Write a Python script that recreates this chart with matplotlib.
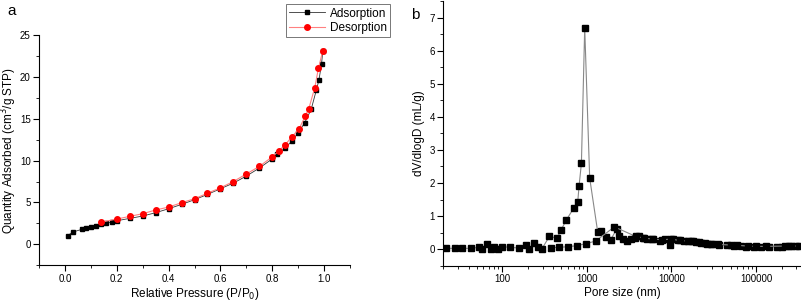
import matplotlib
matplotlib.use("Agg")
import matplotlib.pyplot as plt
from matplotlib.ticker import MultipleLocator, FuncFormatter, LogLocator, NullFormatter

plt.rcParams["font.family"] = ["Liberation Sans", "DejaVu Sans"]

# ─── panel a: isotherm ─────────────────────────
ads_p = [0.01, 0.03, 0.065, 0.08, 0.10, 0.12, 0.14, 0.16, 0.18, 0.20, 0.25, 0.30,
         0.35, 0.40, 0.45, 0.50, 0.55, 0.60, 0.65, 0.70, 0.75, 0.80, 0.82, 0.85,
         0.875, 0.90, 0.925, 0.95, 0.97, 0.98, 0.99, 0.995]
ads_q = [1.03, 1.47, 1.79, 1.91, 2.07, 2.23, 2.38, 2.54, 2.66, 2.82, 3.10, 3.38,
         3.78, 4.25, 4.77, 5.33, 5.96, 6.64, 7.31, 8.15, 9.10, 10.2, 10.8, 11.5,
         12.3, 13.3, 14.5, 16.1, 18.4, 19.6, 21.5, 23.1]

des_p = [0.995, 0.978, 0.964, 0.941, 0.927, 0.904, 0.875, 0.85, 0.824, 0.80, 0.75,
         0.70, 0.65, 0.60, 0.55, 0.50, 0.45, 0.40, 0.35, 0.30, 0.25, 0.20, 0.14]
des_q = [23.1, 21.0, 18.7, 16.2, 15.3, 13.8, 12.8, 11.9, 11.1, 10.45, 9.3,
         8.4, 7.5, 6.75, 6.1, 5.45, 4.97, 4.45, 4.1, 3.66, 3.34, 3.02, 2.65]

# ─── panel b: pore size distribution ───────────
psd1_d = [21.9, 27.4, 33.5, 42.3, 53.1, 58.1, 66, 72.8, 79.8, 88.9, 100, 125, 157,
          192, 210, 236, 264, 294, 361, 445, 497, 573, 700, 780, 809, 863, 944,
          1081, 1344, 1473, 1671, 1914, 2250, 2420, 2650, 2950, 3320, 3700, 4160,
          4630, 5210, 5820, 7300, 8350, 9570, 10300, 11800, 14100, 16900, 19400,
          22200, 26600, 30500, 36500, 45800, 54900, 65800, 75400, 94500, 113000,
          142000, 178000, 204000, 244000, 293000]
psd1_v = [0.02, 0.02, 0.02, 0.02, 0.05, 0.0, 0.14, 0.0, 0.07, 0.0, 0.07, 0.05, 0.03,
          0.12, 0.0, 0.18, 0.05, 0.0, 0.38, 0.33, 0.58, 0.88, 1.24, 1.41, 1.9, 2.6, 6.7,
          2.15, 0.52, 0.55, 0.37, 0.28, 0.6, 0.40, 0.31, 0.24, 0.29, 0.34, 0.40,
          0.34, 0.31, 0.29, 0.24, 0.29, 0.11, 0.29, 0.27, 0.24, 0.25, 0.22,
          0.19, 0.16, 0.14, 0.12, 0.11, 0.09, 0.09, 0.07, 0.07, 0.06,
          0.06, 0.07, 0.07, 0.08, 0.08]

psd2_d = [380, 470, 600, 760, 970, 1270, 2115, 3800, 4800, 6000, 7800, 9800, 12500,
          15500, 18000, 21000, 25000, 29000, 35000, 50000, 60000, 80000, 100000,
          130000, 220000, 260000, 320000]
psd2_v = [0.04, 0.05, 0.07, 0.10, 0.16, 0.24, 0.67, 0.38, 0.33, 0.30, 0.28, 0.30, 0.26,
          0.24, 0.23, 0.20, 0.18, 0.16, 0.14, 0.12, 0.11, 0.09, 0.08,
          0.08, 0.09, 0.09, 0.09]

fig = plt.figure(figsize=(8.01, 3.05), dpi=100)

ax1 = fig.add_axes([0.0487, 0.130, 0.3883, 0.756])
ax1.plot(ads_p, ads_q, color="#333333", linewidth=0.6, marker="s", markersize=3.4,
         markerfacecolor="black", markeredgecolor="black", label="Adsorption")
ax1.plot(des_p, des_q, color="#ff8080", linewidth=0.8, marker="o", markersize=4.0,
         markerfacecolor="red", markeredgecolor="red", label="Desorption")
ax1.set_xlim(-0.1, 1.1)
ax1.set_ylim(-2.5, 25)
ax1.xaxis.set_major_locator(MultipleLocator(0.2))
ax1.xaxis.set_minor_locator(MultipleLocator(0.1))
ax1.yaxis.set_major_locator(MultipleLocator(5))
ax1.yaxis.set_minor_locator(MultipleLocator(2.5))
ax1.xaxis.set_major_formatter(FuncFormatter(lambda v, p: f"{v:.1f}"))
ax1.set_xlabel("Relative Pressure (P/P$_0$)", fontsize=8.5, labelpad=2)
ax1.set_ylabel("Quantity Adsorbed (cm$^3$/g STP)", fontsize=8.5, labelpad=1)
ax1.text(-0.103, 1.135, "a", transform=ax1.transAxes, fontsize=11, va="top", ha="left")

leg = ax1.legend(loc="upper right", bbox_to_anchor=(0.487, 0.987),
                 bbox_transform=fig.transFigure, borderaxespad=0, fontsize=8.5,
                 fancybox=False, edgecolor="#777777", framealpha=1,
                 handlelength=3.0, numpoints=1, labelspacing=0.2,
                 borderpad=0.3, handletextpad=0.4)
leg.get_frame().set_linewidth(0.7)

ax2 = fig.add_axes([0.5531, 0.1295, 0.447, 0.8656])
ax2.plot(psd1_d, psd1_v, color="#888888", linewidth=0.8, marker="s", markersize=4.2,
         markerfacecolor="black", markeredgecolor="black")
ax2.plot(psd2_d, psd2_v, color="#888888", linewidth=0.8, marker="s", markersize=4.2,
         markerfacecolor="black", markeredgecolor="black")
ax2.set_xscale("log")
ax2.set_xlim(20, 340000)
ax2.set_ylim(-0.5, 7.5)
ax2.xaxis.set_major_locator(LogLocator(base=10, numticks=10))
ax2.xaxis.set_minor_locator(LogLocator(base=10, subs=range(2, 10), numticks=20))
ax2.xaxis.set_minor_formatter(NullFormatter())
ax2.xaxis.set_major_formatter(FuncFormatter(lambda v, p: f"{v:.0f}"))
ax2.yaxis.set_major_locator(MultipleLocator(1))
ax2.yaxis.set_minor_locator(MultipleLocator(0.5))
ax2.set_xlabel("Pore size (nm)", fontsize=8.5, labelpad=2)
ax2.set_ylabel("dV/dlogD (mL/g)", fontsize=8.5, labelpad=3)
ax2.text(-0.089, 0.975, "b", transform=ax2.transAxes, fontsize=11, va="top", ha="left")

for ax in (ax1, ax2):
    ax.spines["top"].set_visible(False)
    ax.spines["right"].set_visible(False)
    ax.spines["left"].set_linewidth(0.8)
    ax.spines["bottom"].set_linewidth(0.8)
    ax.tick_params(which="major", direction="out", length=4, width=0.8, labelsize=7, pad=2)
    ax.tick_params(which="minor", direction="out", length=2, width=0.6)

fig.savefig("out.png", dpi=100)
